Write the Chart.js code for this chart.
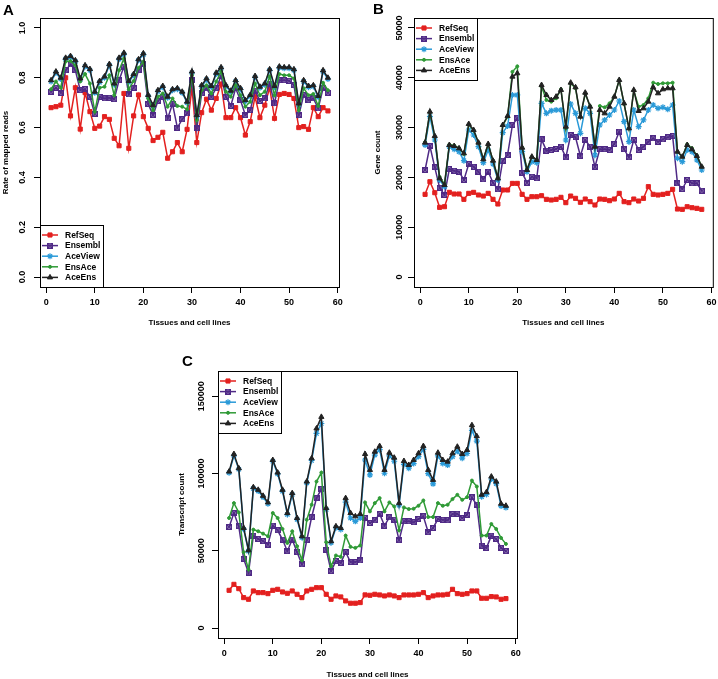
<!DOCTYPE html>
<html>
<head>
<meta charset="utf-8">
<script src="https://cdn.jsdelivr.net/npm/chart.js@4.4.1/dist/chart.umd.min.js"></script>
<style>
  body { margin: 0; background: #fff; width: 718px; height: 679px; position: relative; overflow: hidden; }
  canvas { position: absolute; }
</style>
</head>
<body>
<canvas id="chartA" width="359" height="330" style="left:0;top:0"></canvas>
<canvas id="chartB" width="359" height="330" style="left:359px;top:0"></canvas>
<canvas id="chartC" width="359" height="349" style="left:170px;top:330px"></canvas>
<script>
// tissues / cell lines 1..58
const tissues = [1,2,3,4,5,6,7,8,9,10,11,12,13,14,15,16,17,18,19,20,21,22,23,24,25,26,27,28,29,30,
  31,32,33,34,35,36,37,38,39,40,41,42,43,44,45,46,47,48,49,50,51,52,53,54,55,56,57,58];
const seriesNames = ["RefSeq", "Ensembl", "AceView", "EnsAce", "AceEns"];
const xTicks = [0, 10, 20, 30, 40, 50, 60];

// A: rate of mapped reads
const yTicksA = [0, 0.2, 0.4, 0.6, 0.8, 1.0];
const refseqA = [0.68,0.684,0.69,0.80,0.647,0.76,0.594,0.74,0.664,0.597,0.606,0.644,0.633,0.557,0.527,0.737,0.517,0.647,0.731,0.644,
  0.597,0.548,0.561,0.581,0.477,0.503,0.54,0.503,0.593,0.76,0.54,0.66,0.714,0.67,0.717,0.775,0.64,0.64,0.68,0.64,
  0.57,0.624,0.724,0.64,0.69,0.76,0.637,0.733,0.737,0.733,0.717,0.60,0.604,0.593,0.68,0.644,0.68,0.667];
const ensemblA = [0.744,0.76,0.74,0.83,0.854,0.83,0.75,0.754,0.724,0.655,0.724,0.717,0.72,0.714,0.79,0.845,0.733,0.76,0.83,0.854,
  0.695,0.65,0.707,0.724,0.637,0.695,0.60,0.633,0.657,0.79,0.597,0.737,0.758,0.724,0.758,0.807,0.724,0.687,0.758,0.71,
  0.65,0.67,0.748,0.707,0.717,0.777,0.697,0.79,0.79,0.788,0.77,0.65,0.73,0.71,0.717,0.677,0.758,0.74];
const aceViewA = [0.785,0.82,0.795,0.875,0.883,0.865,0.792,0.845,0.83,0.74,0.782,0.80,0.85,0.772,0.875,0.895,0.782,0.81,0.87,0.893,
  0.726,0.686,0.745,0.762,0.72,0.75,0.754,0.74,0.70,0.82,0.645,0.765,0.792,0.762,0.815,0.837,0.765,0.744,0.785,0.753,
  0.705,0.726,0.802,0.76,0.772,0.83,0.762,0.84,0.838,0.838,0.83,0.692,0.785,0.762,0.765,0.722,0.825,0.795];
const ensAceA = [0.754,0.785,0.76,0.865,0.867,0.85,0.785,0.815,0.777,0.664,0.76,0.764,0.81,0.73,0.83,0.877,0.754,0.787,0.84,0.865,
  0.717,0.67,0.724,0.737,0.684,0.717,0.687,0.684,0.673,0.81,0.63,0.75,0.77,0.737,0.785,0.825,0.744,0.724,0.77,0.73,
  0.684,0.704,0.777,0.73,0.744,0.805,0.73,0.815,0.81,0.81,0.797,0.67,0.758,0.73,0.735,0.687,0.78,0.75];
const aceEnsA = [0.79,0.825,0.80,0.88,0.887,0.87,0.797,0.85,0.835,0.744,0.787,0.805,0.855,0.777,0.88,0.90,0.787,0.815,0.874,0.898,
  0.731,0.69,0.75,0.767,0.724,0.754,0.758,0.744,0.704,0.825,0.65,0.77,0.797,0.767,0.82,0.842,0.77,0.748,0.79,0.758,
  0.71,0.731,0.807,0.764,0.777,0.834,0.767,0.845,0.842,0.842,0.834,0.697,0.79,0.767,0.77,0.727,0.83,0.80];

// B: gene count
const yTicksB = [0, 10000, 20000, 30000, 40000, 50000];
const refseqB = [16600,19140,16930,13990,14120,17000,16670,16670,15600,16800,17000,16470,16260,16800,15600,14660,17470,17470,18800,18800,
  16600,15600,16130,16130,16330,15600,15460,15600,16000,14930,16260,15800,15000,15660,15130,14460,15660,15600,15330,15660,
  16800,15130,14930,15660,15260,15800,18140,16600,16470,16600,16800,17600,13650,13590,14120,13920,13790,13590];
const ensemblB = [21490,26300,22020,17940,16470,21690,21350,21150,19480,22690,22150,21150,19610,21150,18940,17600,23360,24500,30520,31860,
  20950,18940,20150,19810,27640,25370,25500,25700,26170,24030,28510,28040,24300,27510,26170,22150,25640,25640,25500,26710,
  29180,25640,24030,27510,25500,26170,27170,27840,27170,27640,28040,28310,18810,17670,19480,18810,18810,17340];
const aceViewB = [26500,32200,27510,19480,18140,26170,25640,25170,23360,29520,28510,26170,22960,25500,22690,19480,28980,30320,36550,36550,
  25170,21150,23160,22960,34870,32860,33400,33530,33530,27510,34740,32860,28850,33870,32860,24500,30520,31530,32530,33530,
  35340,31190,27170,33530,30190,31530,33530,34540,33870,34070,33670,34540,23830,23160,25500,25170,23490,21490];
const ensAceB = [27100,33000,28200,20100,18700,26600,26400,25900,24700,30600,29400,27000,23700,26600,23400,20000,30400,32200,41200,42300,
  26000,21700,24100,23600,38200,35540,35210,35880,37680,29850,38890,37890,32200,36750,34340,26170,34340,34070,34870,36210,
  39560,34740,29850,37420,34200,34540,35880,39020,38760,38890,38890,39020,25170,24160,26640,25840,24430,22150];
const aceEnsB = [26980,33200,28310,19810,18470,26500,26300,25840,24830,30720,29520,26980,23630,26710,23360,19810,30520,32330,40230,40900,
  25970,21490,24160,23490,38550,36550,35540,36210,37550,30190,39020,38090,32200,37010,34200,26170,33530,32860,34200,36210,
  39560,34870,29850,37550,33330,33870,35210,38090,36880,37680,37890,37890,25170,24160,26500,25640,24300,22150];

// C: transcript count
const yTicksC = [0, 50000, 100000, 150000];
const refseqC = [24460,28330,25540,19740,18670,24040,22960,22960,22320,24460,25110,23390,22530,24040,21890,19740,24040,25110,26180,26180,
  21890,18670,20820,20170,17600,16100,16100,16520,21500,21250,21890,21460,20820,21460,20820,19740,21460,21460,21460,21890,
  22960,19740,20820,21460,21460,21890,25110,22320,21890,22320,24040,24040,19310,19310,20390,20170,18670,19100];
const ensemblC = [65450,74460,65880,44850,35840,59870,57730,56230,54080,66310,63310,57300,49790,57300,49140,41200,56870,71890,84130,89920,
  50860,36910,43350,42280,49140,42710,42710,43780,71250,68030,69750,73820,66310,71680,70170,56870,69100,69100,68460,70600,
  72320,62020,64810,70600,70170,69750,73820,74040,71250,73390,84550,79830,53440,51930,59870,57730,51930,49790];
const aceViewC = [100500,111500,102800,64000,49800,90400,88700,84800,80500,108000,99800,88600,73500,86500,70400,58600,94000,108500,125970,132410,
  76800,55300,65000,63800,81500,71250,69100,71250,108800,99140,112000,115500,100220,111500,108000,79500,106000,103500,106500,111000,
  115670,100000,93350,111500,106500,105500,111000,114500,110000,113000,128000,121000,85000,86500,96500,93500,79000,78000];
const ensAceC = [71250,80900,74890,49140,37980,63740,62660,61160,59440,74460,71250,64160,55150,62660,53010,43990,70170,79830,94850,100650,
  55580,40130,47000,46140,59870,52580,51930,53440,81330,75540,80900,84130,75540,81330,78760,63310,78110,77040,77260,79190,
  82620,71890,71890,80900,79190,79830,83480,86270,83050,84770,95500,91630,59870,59870,67380,64160,58370,54510];
const aceEnsC = [101290,112660,103440,64810,50430,91200,89490,85630,81330,108800,100650,89490,74460,87340,71250,59440,94850,109870,129190,136700,
  77690,56230,65880,64810,84130,74460,72320,73820,112660,102360,114160,117820,102360,113520,110300,80900,108160,105580,108800,113090,
  117820,102360,95920,113520,108800,107730,113090,117390,112660,115240,131330,124250,86270,87990,98070,94850,80470,79190];

const FONT = '"Liberation Sans", Arial, Helvetica, sans-serif';
const colors = ["#e3201f", "#4f2a86", "#2a9ad8", "#2f9a36", "#222222"];

// square with a cross (R pch 7)
function boxCross(color) {
  const c = document.createElement('canvas');
  c.width = 6; c.height = 6;
  const g = c.getContext('2d');
  g.strokeStyle = color; g.lineWidth = 1.4;
  g.strokeRect(0.7, 0.7, 4.6, 4.6);
  g.beginPath();
  g.moveTo(0.7, 0.7); g.lineTo(5.3, 5.3);
  g.moveTo(5.3, 0.7); g.lineTo(0.7, 5.3);
  g.stroke();
  return c;
}

const markers = [
  { pointStyle: 'rect', radius: 2.9, borderWidth: 1 },
  { pointStyle: boxCross(colors[1]), radius: 3, borderWidth: 1 },
  { pointStyle: 'star', radius: 3, borderWidth: 1.2 },
  { pointStyle: 'circle', radius: 1.5, borderWidth: 1 },
  { pointStyle: 'triangle', radius: 3, borderWidth: 1 }
];

// R-style frame, rotated y labels, titles, panel letter and boxed legend
const rFrame = {
  id: 'rFrame',
  afterDraw(chart, args, o) {
    const { ctx, chartArea: a, scales: { y } } = chart;
    ctx.save();
    ctx.fillStyle = '#000';
    ctx.strokeStyle = '#000';
    ctx.lineWidth = 1;
    ctx.strokeRect(a.left + 0.5, a.top + 0.5, a.width, a.height);

    ctx.font = 'bold 9px ' + FONT;
    ctx.textAlign = 'center';
    ctx.textBaseline = 'middle';
    o.yTicks.forEach(v => {
      ctx.save();
      ctx.translate(a.left - o.yTickOff, y.getPixelForValue(v));
      ctx.rotate(-Math.PI / 2);
      ctx.fillText(o.fmt(v), 0, 0);
      ctx.restore();
    });

    ctx.font = 'bold 8px ' + FONT;
    ctx.save();
    ctx.translate(a.left - o.yTitleOff, (a.top + a.bottom) / 2);
    ctx.rotate(-Math.PI / 2);
    ctx.fillText(o.yTitle, 0, 0);
    ctx.restore();
    ctx.fillText('Tissues and cell lines', (a.left + a.right) / 2, a.bottom + o.xTitleOff);

    ctx.font = 'bold 15px ' + FONT;
    ctx.textAlign = 'left';
    ctx.textBaseline = 'alphabetic';
    ctx.fillText(o.letter, o.letterX, o.letterY);

    // legend
    const lw = 63, lh = 62;
    const lx = a.left, ly = o.legendBottom ? a.bottom - lh : a.top;
    ctx.fillStyle = '#fff';
    ctx.fillRect(lx, ly, lw, lh);
    ctx.strokeRect(lx + 0.5, ly + 0.5, lw, lh);
    ctx.font = 'bold 8.5px ' + FONT;
    ctx.textBaseline = 'middle';
    seriesNames.forEach((name, i) => {
      const ry = ly + 10 + i * 10.6;
      ctx.strokeStyle = colors[i];
      ctx.fillStyle = colors[i];
      ctx.lineWidth = 1.5;
      ctx.beginPath();
      ctx.moveTo(lx + 2, ry); ctx.lineTo(lx + 18, ry);
      ctx.stroke();
      ctx.lineWidth = markers[i].borderWidth;
      Chart.helpers.drawPoint(ctx, { pointStyle: markers[i].pointStyle, radius: markers[i].radius, rotation: 0, borderWidth: markers[i].borderWidth }, lx + 10, ry);
      ctx.fillStyle = '#000';
      ctx.fillText(name, lx + 25, ry + 0.5);
    });
    ctx.restore();
  }
};

function makeChart(id, values, yTicks, yMin, yMax, frame, pad, yWidth, xHeight) {
  const datasets = values.map((vals, i) => ({
    label: seriesNames[i],
    data: vals.map((v, k) => ({ x: tissues[k], y: v })),
    borderColor: colors[i],
    backgroundColor: colors[i],
    borderWidth: 1.5,
    pointStyle: markers[i].pointStyle,
    pointRadius: markers[i].radius,
    pointBorderWidth: markers[i].borderWidth,
    pointBackgroundColor: colors[i],
    pointBorderColor: colors[i],
    tension: 0,
    order: 5 - i
  }));
  return new Chart(document.getElementById(id), {
    type: 'line',
    data: { datasets },
    options: {
      responsive: false,
      animation: false,
      layout: { padding: pad },
      plugins: { legend: { display: false }, tooltip: { enabled: false }, rFrame: frame },
      scales: {
        x: {
          type: 'linear', min: -1.28, max: 60.28,
          afterBuildTicks: s => { s.ticks = xTicks.map(v => ({ value: v })); },
          afterFit: s => { s.height = xHeight; s.paddingLeft = 0; s.paddingRight = 0; },
          grid: { drawOnChartArea: false, drawTicks: true, tickLength: 6, color: '#000', lineWidth: 1 },
          border: { display: false },
          ticks: { autoSkip: false, maxRotation: 0, padding: 4, color: '#000', font: { family: FONT, size: 9, weight: 'bold' } }
        },
        y: {
          min: yMin, max: yMax,
          afterBuildTicks: s => { s.ticks = yTicks.map(v => ({ value: v })); },
          afterFit: s => { s.width = yWidth; s.paddingTop = 0; s.paddingBottom = 0; },
          grid: { drawOnChartArea: false, drawTicks: true, tickLength: 6, color: '#000', lineWidth: 1 },
          border: { display: false },
          ticks: { display: false }
        }
      }
    },
    plugins: [rFrame]
  });
}

makeChart('chartA', [refseqA, ensemblA, aceViewA, ensAceA, aceEnsA], yTicksA, -0.04, 1.04,
  { yTicks: yTicksA, fmt: v => v.toFixed(1), yTickOff: 17, yTitleOff: 34, yTitle: 'Rate of mapped reads',
    xTitleOff: 36, letter: 'A', letterX: 3, letterY: 15, legendBottom: true },
  { top: 18, right: 20, left: 0, bottom: 0 }, 40, 43);

makeChart('chartB', [refseqB, ensemblB, aceViewB, ensAceB, aceEnsB], yTicksB, -2000, 52000,
  { yTicks: yTicksB, fmt: v => String(v), yTickOff: 14, yTitleOff: 36, yTitle: 'Gene count',
    xTitleOff: 36, letter: 'B', letterX: 14, letterY: 14, legendBottom: false },
  { top: 18, right: 4, left: 0, bottom: 0 }, 55, 43);

makeChart('chartC', [refseqC, ensemblC, aceViewC, ensAceC, aceEnsC], yTicksC, -6400, 166400,
  { yTicks: yTicksC, fmt: v => String(v), yTickOff: 16, yTitleOff: 36, yTitle: 'Transcript count',
    xTitleOff: 37, letter: 'C', letterX: 12, letterY: 36, legendBottom: false },
  { top: 41, right: 12, left: 0, bottom: 0 }, 48, 41);
</script>
</body>
</html>
